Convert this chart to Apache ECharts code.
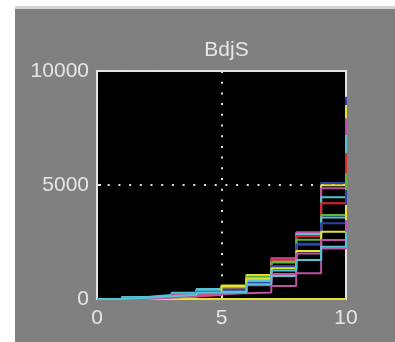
<!DOCTYPE html>
<html>
<head>
<meta charset="utf-8">
<script src="https://cdn.jsdelivr.net/npm/echarts@6/dist/echarts.min.js"></script>
<style>
  html, body { margin: 0; padding: 0; background: #ffffff; }
  #panel { position: absolute; left: 15px; top: 6px; width: 380px; height: 336px;
           background: #808080; border-top: 3px solid #d4d4d4; box-sizing: border-box; }
  #chart { position: absolute; left: 0; top: 0; width: 395px; height: 342px; }
</style>
</head>
<body>
<div id="panel"></div>
<div id="chart"></div>
<script>
// Step positions along the x axis
const xValues = [0, 1, 2, 3, 4, 5, 6, 7, 8, 9, 10];

// Cumulative values per run (held until the next step)
const runZero     = [0, 0, 0, 0, 0, 0, 0, 0, 0, 0, 0];
const runBlue1    = [0, 40, 110, 200, 320, 470, 860, 1400, 2420, 5090, 8870];
const runYellow1  = [0, 60, 130, 230, 380, 590, 1050, 1700, 2780, 4990, 8510];
const runMagenta1 = [0, 50, 120, 220, 360, 520, 900, 1785, 2925, 4860, 7930];
const runCyan1    = [0, 90, 175, 275, 440, 320, 830, 1650, 2850, 4460, 7190];
const runRed1     = [0, 30, 80, 100, 175, 440, 715, 1720, 2760, 4195, 6390];
const runGreen1   = [0, 45, 110, 160, 260, 500, 980, 1600, 2600, 3685, 5510];
const runCyan2    = [0, 70, 150, 240, 400, 380, 760, 1010, 1710, 3580, 4600];
const runBlue2    = [0, 35, 90, 150, 320, 410, 700, 1450, 2380, 3320, 4780];
const runYellow2  = [0, 25, 70, 120, 210, 560, 900, 1350, 2100, 2955, 4120];
const runMagenta2 = [0, 20, 100, 200, 250, 250, 280, 570, 1125, 2590, 3465];
const runMagenta3 = [0, 15, 60, 130, 200, 270, 600, 1100, 2000, 2220, 2600];
const runCyan3    = [0, 55, 120, 190, 290, 300, 650, 1250, 1710, 2295, 2950];

// Axis ticks
const xTicks = [0, 5, 10];
const yTicks = [0, 5000, 10000];

const C = {
  blue: '#2c42a6', yellow: '#e2e234', magenta: '#bf52a4',
  cyan: '#52c4d6', red: '#e42424', green: '#5eb43e'
};

const runs = [
  [runZero, C.yellow],
  [runBlue1, C.blue], [runYellow1, C.yellow], [runMagenta1, C.magenta],
  [runCyan1, C.cyan], [runRed1, C.red], [runGreen1, C.green],
  [runCyan2, C.cyan], [runBlue2, C.blue], [runYellow2, C.yellow],
  [runMagenta2, C.magenta], [runMagenta3, C.magenta], [runCyan3, C.cyan]
];

const labelColor = '#e6e6e6';
const font = 'Liberation Sans, Arial, sans-serif';

const chart = echarts.init(document.getElementById('chart'), null, { renderer: 'canvas' });
chart.setOption({
  backgroundColor: 'transparent',
  animation: false,
  title: {
    text: 'BdjS', left: 221.5, top: 35, textAlign: 'center',
    textStyle: { color: labelColor, fontSize: 21, fontWeight: 'normal', fontFamily: font }
  },
  grid: {
    left: 97, right: 49, top: 71, bottom: 43,
    show: true, backgroundColor: '#000000', borderColor: '#e4e4e4', borderWidth: 2
  },
  xAxis: {
    type: 'value', min: xTicks[0], max: xTicks[xTicks.length - 1], interval: xTicks[1] - xTicks[0],
    axisLine: { show: false },
    axisTick: { show: true, inside: true, length: 4, lineStyle: { color: '#e4e4e4', width: 2 } },
    axisLabel: { color: labelColor, fontSize: 21, fontFamily: font, margin: 9,
                 formatter: v => String(v) },
    splitLine: { show: true, lineStyle: { color: '#e0e0e0', width: 2, type: [2, 8.7] } }
  },
  yAxis: {
    type: 'value', min: yTicks[0], max: yTicks[yTicks.length - 1], interval: yTicks[1] - yTicks[0],
    axisLine: { show: false },
    axisTick: { show: true, inside: true, length: 4, lineStyle: { color: '#e4e4e4', width: 2 } },
    axisLabel: { color: labelColor, fontSize: 21, fontFamily: font, margin: 8,
                 formatter: v => String(v) },
    splitLine: { show: true, lineStyle: { color: '#e0e0e0', width: 2, type: [2, 8.7] } }
  },
  series: runs.map(([vals, color], i) => ({
    type: 'line',
    step: 'end',
    symbol: 'none',
    z: 2 + i,
    data: xValues.map((x, k) => [x, vals[k]]),
    lineStyle: { color: color, width: 2 }
  }))
});
</script>
</body>
</html>
